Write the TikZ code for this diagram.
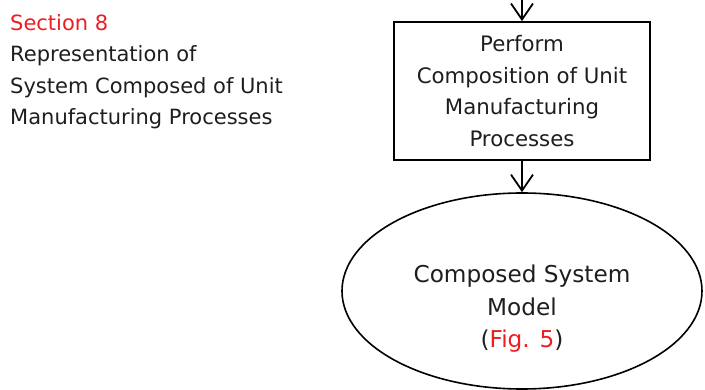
\documentclass[tikz,border=0pt]{standalone}
\usepackage{fontspec}
\setmainfont{DejaVu Sans}
\usetikzlibrary{arrows.meta,shapes.geometric}
\definecolor{txt}{RGB}{30,30,30}
\definecolor{redtxt}{RGB}{235,30,35}
\tikzset{
  conn/.style={line width=1.8pt,-{Straight Barb[length=16pt,width=22pt,line width=1.8pt]}},
  boxnode/.style={draw,line width=1.8pt,minimum width=256pt,minimum height=138pt,align=center,text=txt,font=\fontsize{21.3}{31.5}\selectfont,inner sep=0pt},
  ellnode/.style={draw,ellipse,line width=1.6pt,minimum width=360pt,minimum height=196pt,inner sep=0pt},
  elltxt/.style={align=center,text=txt,font=\fontsize{23.2}{32.5}\selectfont,inner sep=0pt},
  lefttxt/.style={anchor=north west,align=left,text=txt,font=\fontsize{21}{31.5}\selectfont,inner sep=0pt}
}
\begin{document}
\begin{tikzpicture}[x=1pt,y=-1pt]
\useasboundingbox (0,0) rectangle (705,390);
\node[lefttxt] (title) at (10,14) {\textcolor{redtxt}{Section 8}\\Representation of\\System Composed of Unit\\Manufacturing Processes};
\node[boxnode] (box) at (522,91) {Perform\\Composition of Unit\\Manufacturing\\Processes};
\node[ellnode] (ell) at (522,291) {};
\node[elltxt] (elltext) at (522,309) {Composed System\\Model\\(\textcolor{redtxt}{Fig. 5})};
\coordinate (top) at (522,-2);
\draw[conn] (top) -- (box.north);
\draw[conn] (box.south) -- (ell.north);
\end{tikzpicture}
\end{document}
